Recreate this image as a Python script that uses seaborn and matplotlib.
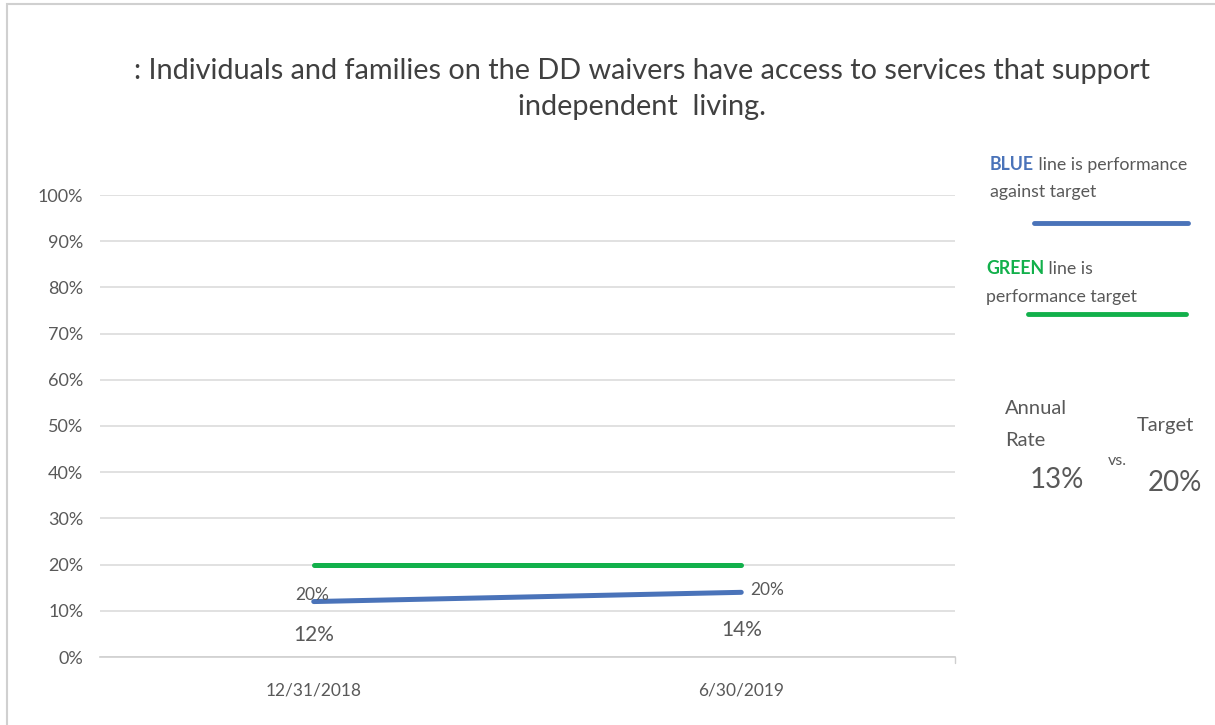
import matplotlib
matplotlib.use("Agg")
import matplotlib.pyplot as plt
import seaborn as sns
import pandas as pd
from matplotlib.patches import Rectangle
from matplotlib.ticker import FuncFormatter

# ---- data ----
periods = ["12/31/2018", "6/30/2019"]
actual = [0.12, 0.14]
target = [0.20, 0.20]
upper_labels = ["20%", "20%"]
lower_labels = ["12%", "14%"]
annual_rate = "13%"
annual_target = "20%"
title = (": Individuals and families on the DD waivers have access to services that support\n"
         "independent  living.")

BLUE = "#4a73b9"
GREEN = "#12b04b"
GRAY = "#595959"
GRID = "#d9d9d9"

sns.set_theme(style="white")
plt.rcParams["font.family"] = ["Lato", "DejaVu Sans"]

df = pd.DataFrame({
    "period": periods * 2,
    "value": actual + target,
    "series": ["actual"] * 2 + ["target"] * 2,
})
df["x"] = [0, 1, 0, 1]

fig = plt.figure(figsize=(12.15, 7.25), dpi=100)
W, H = 1215, 725

def fx(px):
    return px / W

def fy(py):
    return 1 - py / H

ax = fig.add_axes([fx(100), fy(657), fx(955) - fx(100), fy(195) - fy(657)])

sns.lineplot(data=df, x="x", y="value", hue="series",
             palette={"actual": BLUE, "target": GREEN},
             linewidth=3.6, ax=ax, legend=False, zorder=3)
for ln in ax.lines:
    ln.set_solid_capstyle("round")

ax.set_xlim(-0.5, 1.5)
ax.set_ylim(0, 1.0)
ax.set_yticks([i / 10 for i in range(11)])
ax.yaxis.set_major_formatter(FuncFormatter(lambda v, _: f"{v * 100:.0f}%"))
ax.set_xticks([0, 1])
ax.set_xticklabels(periods)
ax.set_xlabel("")
ax.set_ylabel("")
ax.grid(axis="y", color=GRID, linewidth=1.1)
ax.grid(axis="x", visible=False)
for s in ["top", "right", "left"]:
    ax.spines[s].set_visible(False)
ax.spines["bottom"].set_color("#cfcfcf")
ax.spines["bottom"].set_linewidth(1.2)
ax.tick_params(axis="y", length=0, pad=12, labelsize=13, labelcolor=GRAY)
ax.tick_params(axis="x", length=5, width=1, color="#cfcfcf", direction="out",
               pad=13, labelsize=12.5, labelcolor=GRAY)
ax.axvline(1.5, ymin=-0.012, ymax=0, color="#cfcfcf", lw=1, clip_on=False)

# data labels
ax.annotate(upper_labels[0], (0, actual[0]), xytext=(-1, 5), textcoords="offset points",
            ha="center", va="center", fontsize=12.5, color=GRAY)
ax.annotate(upper_labels[1], (1, actual[1]), xytext=(19, 2), textcoords="offset points",
            ha="center", va="center", fontsize=12.5, color=GRAY)
ax.annotate(lower_labels[0], (0, actual[0]), xytext=(0, -24), textcoords="offset points",
            ha="center", va="center", fontsize=15, color=GRAY)
ax.annotate(lower_labels[1], (1, actual[1]), xytext=(0, -27), textcoords="offset points",
            ha="center", va="center", fontsize=15, color=GRAY)

# title
fig.text(fx(642), fy(89), title, ha="center", va="center", fontsize=20.8,
         color="#404040", linespacing=1.5)

# outer frame (left and top edges)
fig.patches.append(Rectangle((fx(7), -0.1), 1.2, fy(4) + 0.1, transform=fig.transFigure,
                             fill=False, edgecolor="#d0d0d0", linewidth=1.5))

# side key, drawn as runs of coloured text
fig.canvas.draw()
renderer = fig.canvas.get_renderer()

def text_run(x_px, y_px, parts, size):
    x = fx(x_px)
    for s, color, weight in parts:
        t = fig.text(x, fy(y_px), s, ha="left", va="center", fontsize=size,
                     color=color, fontweight=weight)
        bb = t.get_window_extent(renderer=renderer)
        x = fig.transFigure.inverted().transform((bb.x1, bb.y0))[0]

text_run(990, 165, [("BLUE", BLUE, "bold"), (" line is performance", GRAY, "normal")], 12.8)
text_run(990, 192, [("against target", GRAY, "normal")], 12.8)
fig.add_artist(plt.Line2D([fx(1034), fx(1188)], [fy(223), fy(223)], color=BLUE, lw=3.5))
text_run(986, 269, [("GREEN", GREEN, "bold"), (" line is", GRAY, "normal")], 12.8)
text_run(986, 297, [("performance target", GRAY, "normal")], 12.8)
fig.add_artist(plt.Line2D([fx(1028), fx(1186)], [fy(314), fy(314)], color=GREEN, lw=3.5))

fig.text(fx(1005), fy(409), "Annual", ha="left", va="center", fontsize=14.5, color=GRAY)
fig.text(fx(1005), fy(441), "Rate", ha="left", va="center", fontsize=14.5, color=GRAY)
fig.text(fx(1030), fy(480), annual_rate, ha="left", va="center", fontsize=20, color=GRAY)
fig.text(fx(1108), fy(461), "vs.", ha="left", va="center", fontsize=11.5, color=GRAY)
fig.text(fx(1137), fy(426), "Target", ha="left", va="center", fontsize=14.5, color=GRAY)
fig.text(fx(1148), fy(483), annual_target, ha="left", va="center", fontsize=20, color=GRAY)

fig.savefig("out.png", dpi=100, facecolor="white")
